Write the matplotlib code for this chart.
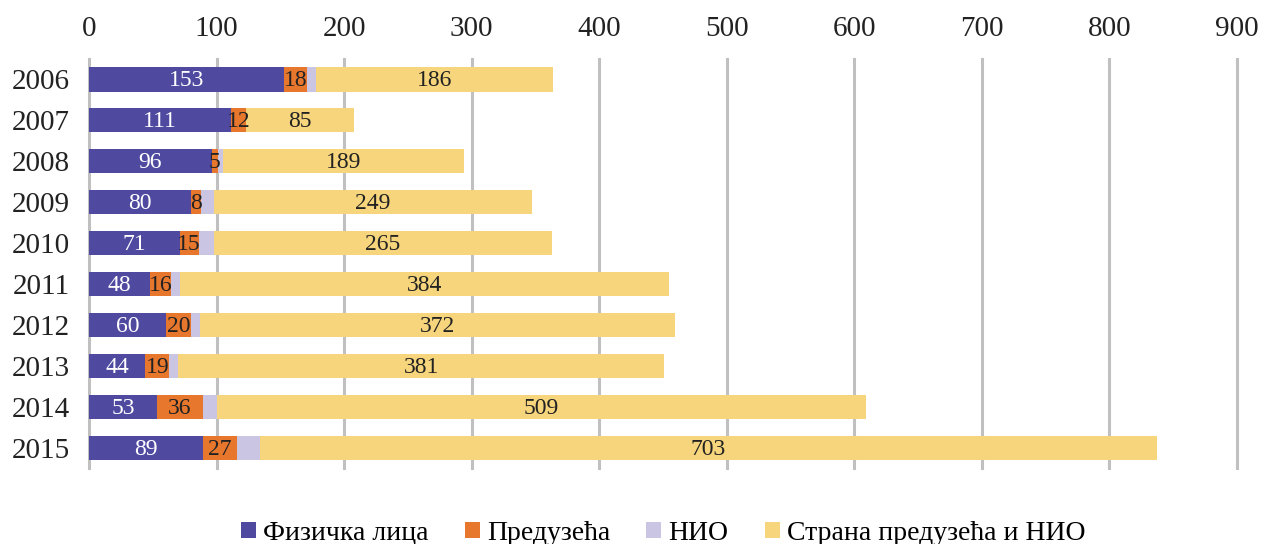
import matplotlib.pyplot as plt
import numpy as np

plt.rcParams['font.family'] = ['Liberation Serif', 'DejaVu Serif']

#--------------- data -----------------------#
years = ['2006', '2007', '2008', '2009', '2010', '2011', '2012', '2013', '2014', '2015']
fizicka = [153, 111, 96, 80, 71, 48, 60, 44, 53, 89]
preduzeca = [18, 12, 5, 8, 15, 16, 20, 19, 36, 27]
nio = [7, 0, 4, 10, 12, 7, 7, 7, 11, 18]
strana = [186, 85, 189, 249, 265, 384, 372, 381, 509, 703]

names = ['Физичка лица', 'Предузећа', 'НИО', 'Страна предузећа и НИО']
colors = ['#4F4AA0', '#E8772E', '#C9C5E3', '#F6D57C']
txtcol = ['white', '#222222', None, '#222222']

#--------------- plot -----------------#
fig, ax = plt.subplots(figsize=(12.67, 5.44), dpi=100)
plt.subplots_adjust(left=0.0703, right=0.9763, top=0.892, bottom=0.139)

y = np.arange(len(years))
left = np.zeros(len(years))
for vals, name, c, tc in zip([fizicka, preduzeca, nio, strana], names, colors, txtcol):
    vals = np.array(vals, dtype=float)
    bars = ax.barh(y, vals, left=left, height=0.6, color=c, label=name, zorder=3)
    if tc is not None:
        for cx, cy, v in zip(left + vals / 2, y, vals):
            ax.text(cx, cy + 0.03, str(int(v)), ha='center', va='center',
                    color=tc, fontsize=17, zorder=4)
    left += vals

ax.set_xlim(0, 900)
ax.set_xticks(np.arange(0, 901, 100))
ax.set_ylim(len(years) - 0.5, -0.5)
ax.set_yticks(y)
ax.set_yticklabels(years)
ax.xaxis.tick_top()
ax.tick_params(axis='both', length=0, labelsize=21, colors='#222222')
ax.tick_params(axis='x', pad=12)
ax.tick_params(axis='y', pad=14)
ax.grid(axis='x', color='#C0C0C0', linewidth=2.2, zorder=0)
for gl in ax.get_xgridlines():
    gl.set_clip_on(False)
for s in ax.spines.values():
    s.set_visible(False)

ax.legend(loc='lower center', bbox_to_anchor=(0.5, -0.25), ncol=4, frameon=False,
          fontsize=20, handlelength=0.55, handleheight=0.55, handletextpad=0.25,
          columnspacing=1.3)

plt.savefig('out.png')
